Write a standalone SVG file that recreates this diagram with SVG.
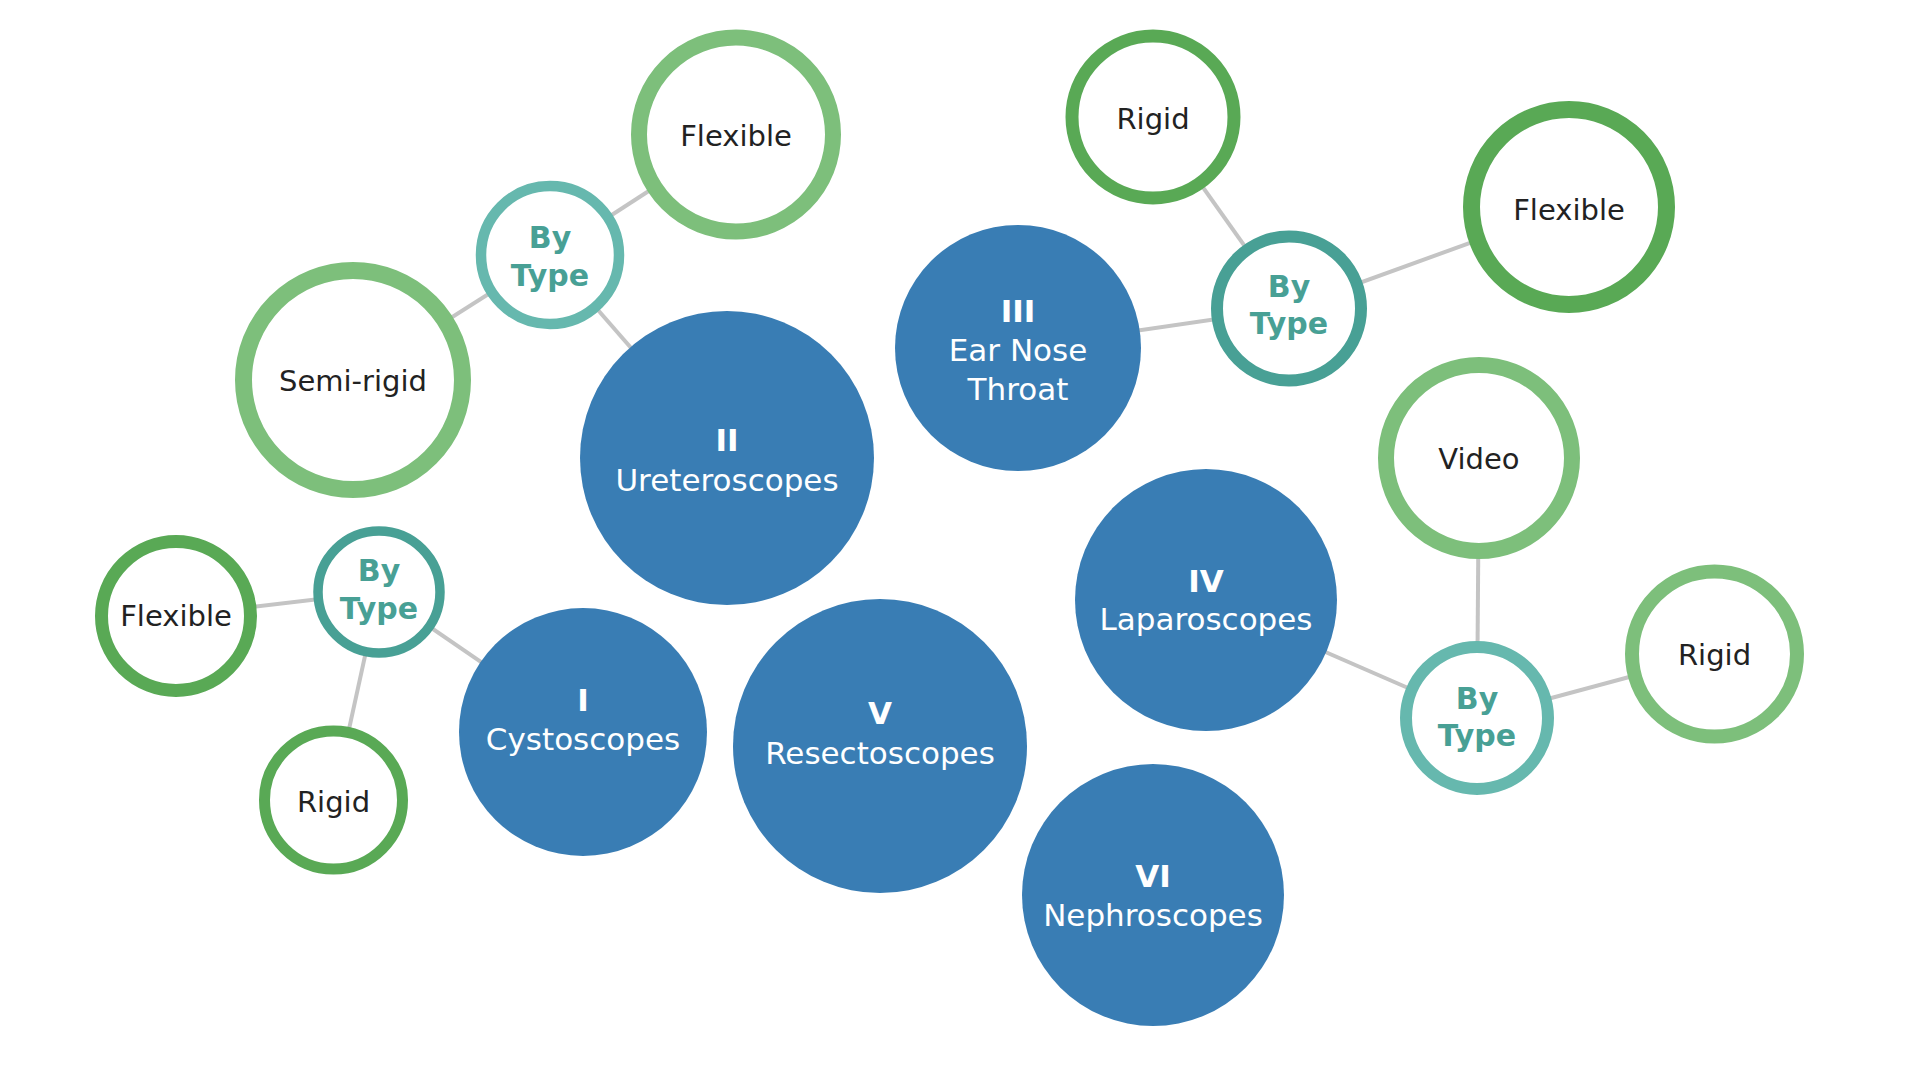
<svg xmlns="http://www.w3.org/2000/svg" width="1919" height="1080" viewBox="0 0 1919 1080">
<style>
.edge{stroke:#c4c4c4;stroke-width:4;fill:none}
.main{fill:#397db4}
.mt{font-family:"DejaVu Sans",Verdana,sans-serif;font-size:31px;fill:#ffffff;text-anchor:middle}
.num{font-weight:bold}
.bt{fill:#ffffff}
.btd{stroke:#48a095}
.btl{stroke:#66b8ae}
.btt{font-family:"DejaVu Sans",Verdana,sans-serif;font-size:30px;font-weight:bold;fill:#48a095;text-anchor:middle}
.leaf{fill:#ffffff}
.ld{stroke:#59a955}
.ll{stroke:#7dbf7b}
.lt{font-family:"DejaVu Sans",Verdana,sans-serif;font-size:29px;fill:#222222;text-anchor:middle}
</style>
<rect width="1919" height="1080" fill="#ffffff"/>
<g id="connectors">
<line class="edge" x1="550" y1="255" x2="736" y2="134.5"/>
<line class="edge" x1="550" y1="255" x2="353" y2="380"/>
<line class="edge" x1="550" y1="255" x2="727" y2="458"/>
<line class="edge" x1="1289" y1="308.5" x2="1153" y2="117"/>
<line class="edge" x1="1289" y1="308.5" x2="1569" y2="207"/>
<line class="edge" x1="1289" y1="308.5" x2="1018" y2="348"/>
<line class="edge" x1="379" y1="592" x2="176" y2="616"/>
<line class="edge" x1="379" y1="592" x2="333.5" y2="800"/>
<line class="edge" x1="379" y1="592" x2="583" y2="732"/>
<line class="edge" x1="1477" y1="718" x2="1479" y2="458"/>
<line class="edge" x1="1477" y1="718" x2="1714.5" y2="654"/>
<line class="edge" x1="1477" y1="718" x2="1206" y2="600"/>
</g>
<g id="n-ureteroscopes">
<circle class="main" cx="727" cy="458" r="147"/>
<text class="mt num" x="727" y="451">II</text>
<text class="mt" x="727" y="491">Ureteroscopes</text>
</g>
<g id="n-cystoscopes">
<circle class="main" cx="583" cy="732" r="124"/>
<text class="mt num" x="583" y="711">I</text>
<text class="mt" x="583" y="750">Cystoscopes</text>
</g>
<g id="n-resectoscopes">
<circle class="main" cx="880" cy="746" r="147"/>
<text class="mt num" x="880" y="724">V</text>
<text class="mt" x="880" y="764">Resectoscopes</text>
</g>
<g id="n-ent">
<circle class="main" cx="1018" cy="348" r="123"/>
<text class="mt num" x="1018" y="322">III</text>
<text class="mt" x="1018" y="361">Ear Nose</text>
<text class="mt" x="1018" y="400">Throat</text>
</g>
<g id="n-laparoscopes">
<circle class="main" cx="1206" cy="600" r="131"/>
<text class="mt num" x="1206" y="592">IV</text>
<text class="mt" x="1206" y="630">Laparoscopes</text>
</g>
<g id="n-nephroscopes">
<circle class="main" cx="1153" cy="895" r="131"/>
<text class="mt num" x="1153" y="887">VI</text>
<text class="mt" x="1153" y="926">Nephroscopes</text>
</g>
<g id="t-ureteroscopes">
<circle class="bt btl" cx="550" cy="255" r="69" stroke-width="10.5"/>
<text class="btt" x="550" y="248">By</text>
<text class="btt" x="550" y="286">Type</text>
</g>
<g id="t-ent">
<circle class="bt btd" cx="1289" cy="308.5" r="72" stroke-width="12"/>
<text class="btt" x="1289" y="297">By</text>
<text class="btt" x="1289" y="334">Type</text>
</g>
<g id="t-cystoscopes">
<circle class="bt btd" cx="379" cy="592" r="61" stroke-width="9.5"/>
<text class="btt" x="379" y="581">By</text>
<text class="btt" x="379" y="619">Type</text>
</g>
<g id="t-laparoscopes">
<circle class="bt btl" cx="1477" cy="718" r="71" stroke-width="12"/>
<text class="btt" x="1477" y="709">By</text>
<text class="btt" x="1477" y="746">Type</text>
</g>
<g id="l-ureteroscopes-flexible">
<circle class="leaf ll" cx="736" cy="134.5" r="97" stroke-width="16"/>
<text class="lt" x="736" y="146">Flexible</text>
</g>
<g id="l-ureteroscopes-semirigid">
<circle class="leaf ll" cx="353" cy="380" r="109.5" stroke-width="17"/>
<text class="lt" x="353" y="391">Semi-rigid</text>
</g>
<g id="l-ent-rigid">
<circle class="leaf ld" cx="1153" cy="117" r="81" stroke-width="13"/>
<text class="lt" x="1153" y="129">Rigid</text>
</g>
<g id="l-ent-flexible">
<circle class="leaf ld" cx="1569" cy="207" r="97.5" stroke-width="17"/>
<text class="lt" x="1569" y="220">Flexible</text>
</g>
<g id="l-laparoscopes-video">
<circle class="leaf ll" cx="1479" cy="458" r="93" stroke-width="16"/>
<text class="lt" x="1479" y="469">Video</text>
</g>
<g id="l-laparoscopes-rigid">
<circle class="leaf ll" cx="1714.5" cy="654" r="82.5" stroke-width="14"/>
<text class="lt" x="1714.5" y="665">Rigid</text>
</g>
<g id="l-cystoscopes-flexible">
<circle class="leaf ld" cx="176" cy="616" r="74.5" stroke-width="13"/>
<text class="lt" x="176" y="626">Flexible</text>
</g>
<g id="l-cystoscopes-rigid">
<circle class="leaf ld" cx="333.5" cy="800" r="69" stroke-width="11"/>
<text class="lt" x="333.5" y="812">Rigid</text>
</g>
</svg>
